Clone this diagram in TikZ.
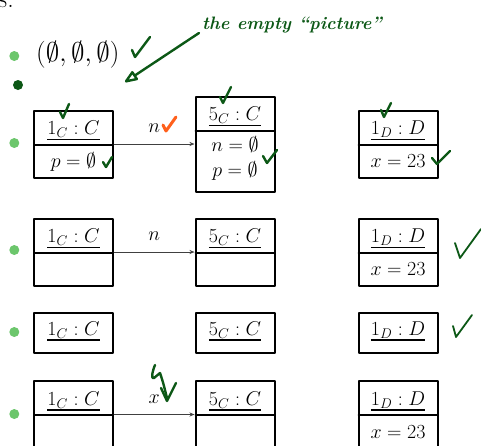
\RequirePackage{fix-cm}
\documentclass[tikz,border=0pt]{standalone}
\usepackage{fontspec}
\usetikzlibrary{shapes.multipart,arrows.meta,positioning}

\definecolor{bulletgreen}{RGB}{108,198,108}
\definecolor{inkgreen}{RGB}{12,88,22}
\definecolor{inkorange}{RGB}{255,96,28}

% underlined object name, thick rule
\newcommand{\objname}[1]{\setbox0\hbox{$#1$}\vtop{\copy0\kern1pt\hrule height 1.8pt width \wd0}}
\newcommand{\headstrut}{\rule[-9pt]{0pt}{32pt}}
\newcommand{\bodystrut}{\rule[-9pt]{0pt}{31pt}}

\tikzset{
  obj/.style={rectangle split, rectangle split parts=2, draw, line width=2pt,
    minimum width=79pt, inner xsep=2pt, inner ysep=0pt},
  objone/.style={draw, line width=2pt, minimum width=79pt, inner xsep=2pt, inner ysep=0pt},
  link/.style={-{Stealth[length=5pt,width=4pt]}, line width=0.6pt, black!75},
  bul/.style={circle, fill=bulletgreen, inner sep=0pt, minimum size=10pt},
  ink/.style={inkgreen, line width=2.4pt, line cap=round, line join=round}
}

\begin{document}
\begin{tikzpicture}[x=1pt, y=1pt, line cap=round, line join=round, every node/.style={font=\fontsize{20}{24}\selectfont}]
  \useasboundingbox (0,0) rectangle (481,-445);
  \clip (0,0) rectangle (481,-445);

  % end of the previous line
  \node[anchor=base west, inner sep=0pt, font=\fontsize{26}{30}\selectfont] (prev) at (-2.2,-7) {s.};

  % first item
  \node[bul] (b0) at (14.3,-56) {};
  \node[anchor=base west, inner sep=0pt, font=\fontsize{27}{32}\selectfont] (triple) at (36,-61) {$(\emptyset,\emptyset,\emptyset)$};

  % row 1
  \node[bul] (b1) at (14.3,-143) {};
  \node[obj] (r1a) at (73.5,-144) {\headstrut\objname{1_C : C}\nodepart{two}\bodystrut$p=\emptyset$};
  \node[obj] (r1b) at (235,-144) {\headstrut\objname{5_C : C}\nodepart{two}\begin{tabular}{@{}c@{}}\rule{0pt}{20pt}$n=\emptyset$\\[1pt]$p=\emptyset$\rule[-14pt]{0pt}{0pt}\end{tabular}};
  \node[obj] (r1c) at (398,-144) {\headstrut\objname{1_D : D}\nodepart{two}\bodystrut$x=23$};
  \draw[link] (r1a) -- node[above=11pt, inner sep=0pt, text=black] (r1n) {$n$} (r1b);

  % row 2
  \node[bul] (b2) at (14.3,-250) {};
  \node[obj] (r2a) at (73.5,-252) {\headstrut\objname{1_C : C}\nodepart{two}\bodystrut};
  \node[obj] (r2b) at (235,-252) {\headstrut\objname{5_C : C}\nodepart{two}\bodystrut};
  \node[obj] (r2c) at (398,-252) {\headstrut\objname{1_D : D}\nodepart{two}\bodystrut$x=23$};
  \draw[link] (r2a) -- node[above=11pt, inner sep=0pt, text=black] (r2n) {$n$} (r2b);

  % row 3
  \node[bul] (b3) at (14.3,-332) {};
  \node[objone] (r3a) at (73.5,-333) {\rule[-18pt]{0pt}{40pt}\objname{1_C : C}};
  \node[objone] (r3b) at (235,-333) {\rule[-18pt]{0pt}{40pt}\objname{5_C : C}};
  \node[objone] (r3c) at (398,-333) {\rule[-18pt]{0pt}{40pt}\objname{1_D : D}};

  % row 4
  \node[bul] (b4) at (14.3,-414) {};
  \node[obj] (r4a) at (73.5,-414.5) {\headstrut\objname{1_C : C}\nodepart{two}\bodystrut};
  \node[obj] (r4b) at (235,-414.5) {\headstrut\objname{5_C : C}\nodepart{two}\bodystrut};
  \node[obj] (r4c) at (398,-414.5) {\headstrut\objname{1_D : D}\nodepart{two}\bodystrut$x=23$};
  \draw[link] (r4a) -- node[above=11pt, inner sep=0pt, text=black] (r4x) {$x$} (r4b);

  % handwritten notes
  \node[anchor=base west, inner sep=0pt, text=inkgreen, font=\fontsize{18}{22}\selectfont\bfseries\itshape] (note) at (202,-29) {the empty “picture”};
  \coordinate (tail) at (199,-33);
  \coordinate (tip) at (125,-82);
  \draw[ink, -{Triangle[open,round,length=15pt,width=11pt]}] (tail) -- (tip);
  \node[circle, fill=inkgreen, inner sep=0pt, minimum size=10pt] (scribble) at (18,-85) {};

  % ticks
  \draw[ink] (132,-50) -- (135,-57) -- (150,-37);
  \draw[ink] (60,-112) -- (63,-118) -- (69,-104);
  \draw[ink] (220,-97) -- (223,-103) -- (231,-87);
  \draw[ink] (381,-110) -- (384,-117) -- (391,-103);
  \draw[ink] (103,-162) -- (106,-167) -- (112,-157);
  \draw[ink] (263,-156) -- (267,-163) -- (277,-150);
  \draw[ink] (432,-158) -- (437,-164) -- (450,-151);
  \draw[ink, inkorange, line width=3pt] (163,-125) -- (166,-131) -- (176,-117);
  \draw[ink, line width=1.8pt] (455,-243) -- (460,-258) -- (481,-229);
  \draw[ink, line width=1.8pt] (453,-326) -- (456,-337) -- (472,-315);

  % lightning over x
  \draw[ink] (155,-365) .. controls (152,-372) and (151,-380) .. (154,-378) -- (160,-373) .. controls (163,-382) .. (167,-398);
  \draw[ink] (161,-388) -- (167,-401) -- (176,-383);
\end{tikzpicture}
\end{document}
